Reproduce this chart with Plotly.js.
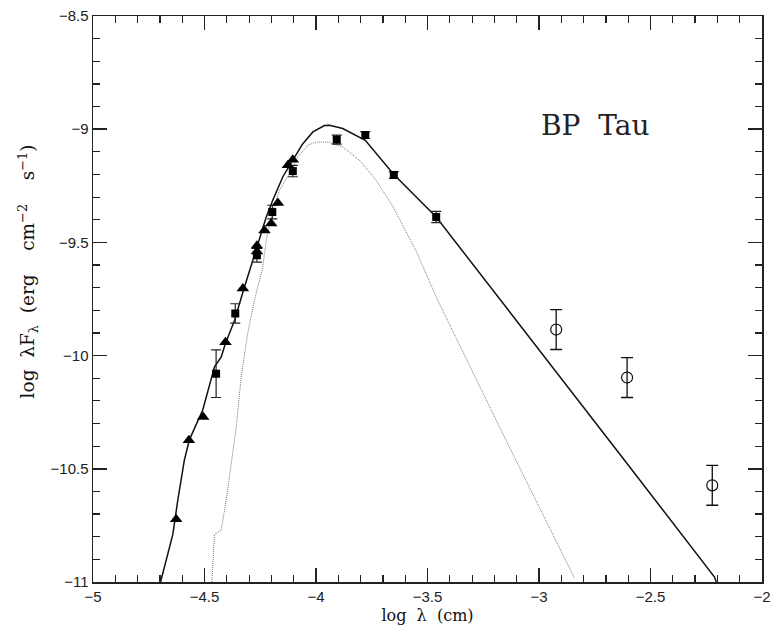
<!DOCTYPE html>
<html>
<head>
<meta charset="utf-8">
<script src="https://cdn.plot.ly/plotly-3.0.1.min.js"></script>
<style>html,body{margin:0;padding:0;background:#fff;}#chart{width:772px;height:626px;}</style>
</head>
<body>
<div id="chart"></div>
<script>
// Photometry: filled triangles
const triX = [-4.627, -4.570, -4.506, -4.406, -4.328, -4.265, -4.265, -4.231, -4.201, -4.171, -4.126, -4.104];
const triY = [-10.723, -10.374, -10.271, -9.941, -9.704, -9.515, -9.540, -9.447, -9.417, -9.326, -9.159, -9.135];

// Photometry: filled squares with error bars
const sqX = [-4.448, -4.362, -4.265, -4.196, -4.104, -3.907, -3.779, -3.651, -3.461];
const sqY = [-10.080, -9.814, -9.557, -9.366, -9.185, -9.046, -9.026, -9.202, -9.388];
const sqErr = [0.105, 0.043, 0.03, 0.03, 0.025, 0.02, 0.015, 0.015, 0.025];

// Millimetre points: open circles with error bars
const circX = [-2.923, -2.605, -2.223];
const circY = [-9.885, -10.097, -10.573];
const circErr = [0.088, 0.088, 0.088];

// Total model (solid line)
const modelX = [-4.697, -4.665, -4.642, -4.620, -4.590, -4.567, -4.508, -4.455, -4.425, -4.406, -4.365, -4.328, -4.268, -4.223, -4.194, -4.149, -4.104, -4.059, -4.014, -3.962, -3.939, -3.880, -3.779, -3.651, -3.461, -3.087, -2.600, -2.213, -2.205];
const modelY = [-11.0, -10.87, -10.79, -10.64, -10.46, -10.37, -10.24, -10.05, -10.006, -9.947, -9.844, -9.72, -9.53, -9.388, -9.314, -9.211, -9.137, -9.064, -9.012, -8.984, -8.983, -8.997, -9.049, -9.200, -9.388, -9.862, -10.483, -10.978, -11.0];

// Stellar photosphere (dotted line)
const photX = [-4.467, -4.455, -4.425, -4.403, -4.358, -4.335, -4.306, -4.276, -4.239, -4.223, -4.194, -4.164, -4.119, -4.082, -4.037, -4.000, -3.947, -3.880, -3.805, -3.730, -3.656, -3.550, -3.454, -3.150, -2.841];
const photY = [-11.0, -10.79, -10.77, -10.64, -10.32, -10.09, -9.90, -9.756, -9.61, -9.49, -9.36, -9.27, -9.196, -9.123, -9.071, -9.057, -9.057, -9.079, -9.137, -9.226, -9.340, -9.54, -9.756, -10.37, -10.982];

const xTickVals = [-5, -4.5, -4, -3.5, -3, -2.5, -2];
const xTickText = ['\u22125', '\u22124.5', '\u22124', '\u22123.5', '\u22123', '\u22122.5', '\u22122'];
const yTickVals = [-11, -10.5, -10, -9.5, -9, -8.5];
const yTickText = ['\u221211', '\u221210.5', '\u221210', '\u22129.5', '\u22129', '\u22128.5'];

const traces = [
  {x: photX, y: photY, mode: 'lines', line: {color: '#777', width: 1, dash: '1px,1px'}, hoverinfo: 'skip'},
  {x: modelX, y: modelY, mode: 'lines', line: {color: '#111', width: 1.5}, hoverinfo: 'skip'},
  {x: sqX, y: sqY, mode: 'markers', marker: {symbol: 'square', size: 8, color: '#000'},
   error_y: {type: 'data', array: sqErr, visible: true, color: '#222', thickness: 1.2, width: 5}},
  {x: triX, y: triY, mode: 'markers', marker: {symbol: 'triangle-up', size: 11, color: '#000'}},
  {x: circX, y: circY, mode: 'markers', marker: {symbol: 'circle-open', size: 11, color: '#111', line: {width: 1.2}},
   error_y: {type: 'data', array: circErr, visible: true, color: '#111', thickness: 1.3, width: 6}}
];

const axisCommon = {
  showgrid: false, zeroline: false, showline: true, linecolor: '#222', linewidth: 1.5,
  mirror: 'ticks', ticks: 'inside', ticklen: 14, tickwidth: 1.5, tickcolor: '#222',
  tickfont: {family: 'Liberation Sans, Arial, sans-serif', size: 15, color: '#222'},
  minor: {dtick: 0.1, ticks: 'inside', ticklen: 7, tickwidth: 1.2, tickcolor: '#222'}
};

const plotW = 772 - 93 - 10;
const SP = '\u00a0\u00a0';

const layout = {
  width: 772, height: 626,
  margin: {l: 93, r: 10, t: 16, b: 44},
  paper_bgcolor: '#fff', plot_bgcolor: '#fff',
  showlegend: false,
  xaxis: Object.assign({}, axisCommon, {
    range: [-5, -2], tickmode: 'array', tickvals: xTickVals, ticktext: xTickText,
    title: {text: 'log' + SP + '\u03bb' + SP + '(cm)', font: {family: 'DejaVu Serif, serif', size: 16, color: '#111'}, standoff: 6}
  }),
  yaxis: Object.assign({}, axisCommon, {
    range: [-11, -8.5], tickmode: 'array', tickvals: yTickVals, ticktext: yTickText
  }),
  annotations: [
    {text: 'BP' + SP + 'Tau', x: -2.747, y: -8.983, xref: 'x', yref: 'y', showarrow: false,
     font: {family: 'DejaVu Serif, serif', size: 28, color: '#222'}},
    {text: 'log' + SP + '\u03bbF<sub>\u03bb</sub>' + SP + '(erg' + SP + SP + 'cm<sup>\u22122</sup>' + SP + SP + 's<sup>\u22121</sup>)',
     textangle: -90,
     x: (28 - 93) / plotW, xref: 'paper', xanchor: 'center', y: -9.628, yref: 'y', showarrow: false,
     font: {family: 'DejaVu Serif, serif', size: 18.5, color: '#111'}}
  ]
};

Plotly.newPlot('chart', traces, layout, {displayModeBar: false, staticPlot: true});
</script>
</body>
</html>
